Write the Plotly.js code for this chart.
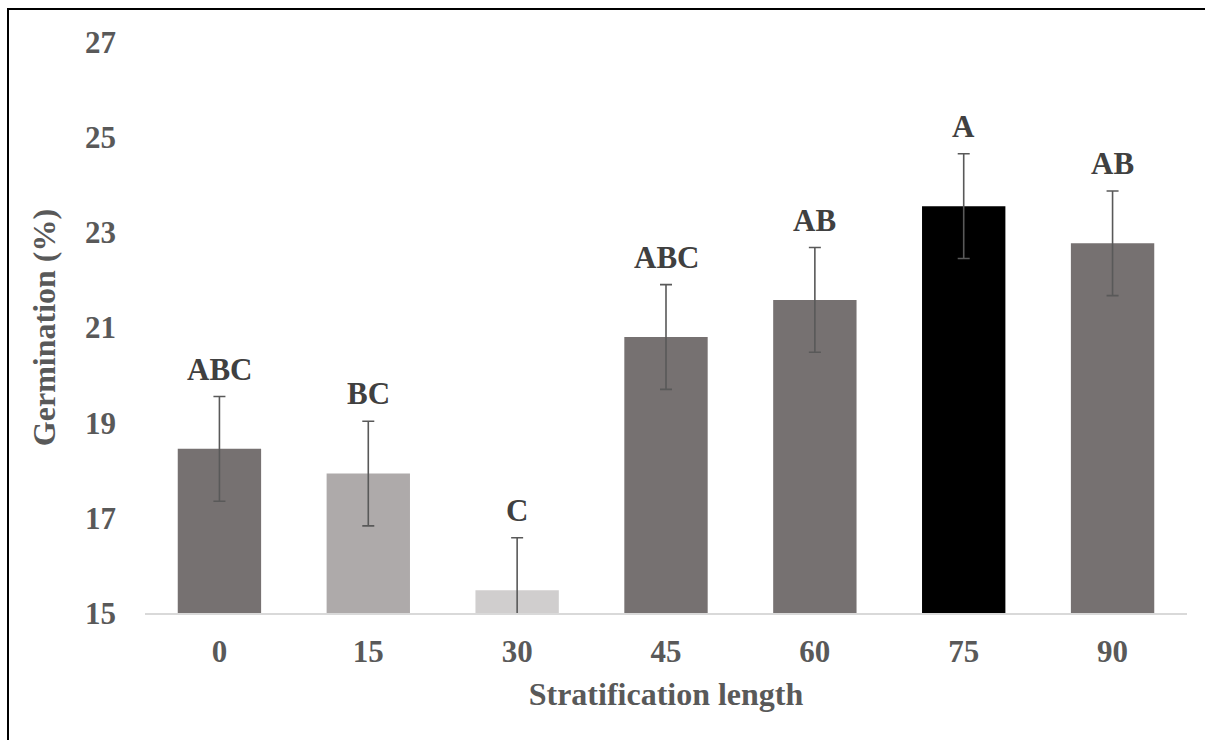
<!DOCTYPE html>
<html>
<head>
<meta charset="utf-8">
<script src="https://cdn.plot.ly/plotly-3.0.1.min.js"></script>
<style>
  html, body { margin: 0; padding: 0; background: #ffffff; }
  #wrap { position: relative; width: 1205px; height: 740px; overflow: hidden; }
  #chart { position: absolute; left: 0; top: 0; width: 1205px; height: 740px; }
  .frame-top { position: absolute; left: 7px; top: 8px; width: 1198px; height: 2px; background: #000; }
  .frame-left { position: absolute; left: 7px; top: 8px; width: 2px; height: 732px; background: #000; }
</style>
</head>
<body>
<div id="wrap">
  <div id="chart"></div>
  <div class="frame-top"></div>
  <div class="frame-left"></div>
</div>
<script>
// Stratification length (days) and mean germination (%) with standard error
const stratification = ['0', '15', '30', '45', '60', '75', '90'];
const germination = [18.45, 17.93, 15.48, 20.80, 21.58, 23.55, 22.77];
const stdError = [1.1, 1.1, 1.1, 1.1, 1.1, 1.1, 1.1];
const groupLetters = ['ABC', 'BC', 'C', 'ABC', 'AB', 'A', 'AB'];
const barColors = ['#767171', '#AEAAAA', '#D0CECE', '#767171', '#767171', '#000000', '#767171'];
const yTicks = [15, 17, 19, 21, 23, 25, 27];

const serif = '"Liberation Serif", "Times New Roman", serif';

// Category positions on the x axis (one slot per stratification length)
const slots = stratification.map((_, i) => i);

const trace = {
  type: 'bar',
  x: slots,
  y: germination,
  marker: { color: barColors, line: { width: 0 } },
  error_y: {
    type: 'data',
    array: stdError,
    visible: true,
    color: '#595959',
    thickness: 1.6,
    width: 6
  },
  hoverinfo: 'y'
};

// Significance letters sit just above each error bar
const letterNotes = slots.map(i => ({
  x: i,
  y: germination[i] + stdError[i],
  xref: 'x',
  yref: 'y',
  text: '<b>' + groupLetters[i] + '</b>',
  showarrow: false,
  yanchor: 'bottom',
  yshift: 8,
  font: { family: serif, size: 31, color: '#404040' }
}));

const layout = {
  width: 1205,
  height: 740,
  margin: { l: 145, r: 18, t: 42, b: 126.5, pad: 0 },
  paper_bgcolor: '#ffffff',
  plot_bgcolor: '#ffffff',
  showlegend: false,
  bargap: 0.44,
  font: { family: serif, color: '#595959' },
  xaxis: {
    type: 'linear',
    range: [-0.5, stratification.length - 0.5],
    tickvals: slots,
    ticktext: stratification,
    tickfont: { family: serif, size: 31, color: '#595959', weight: 'bold' },
    ticks: '',
    ticklabelstandoff: 10,
    showline: true,
    linecolor: '#D9D9D9',
    linewidth: 2,
    showgrid: false,
    zeroline: false,
    title: {
      text: '<b>Stratification length</b>',
      font: { family: serif, size: 32, color: '#595959' },
      standoff: 14
    },
    automargin: false
  },
  yaxis: {
    range: [15, 27],
    tickvals: yTicks,
    ticktext: yTicks.map(String),
    tickfont: { family: serif, size: 31, color: '#595959', weight: 'bold' },
    ticks: '',
    ticklabelstandoff: 28,
    showline: false,
    showgrid: false,
    zeroline: false,
    title: {
      text: '<b>Germination (%)</b>',
      font: { family: serif, size: 32, color: '#595959' },
      standoff: 19
    },
    automargin: false
  },
  annotations: letterNotes
};

Plotly.newPlot('chart', [trace], layout, { displayModeBar: false, staticPlot: true });
</script>
</body>
</html>
